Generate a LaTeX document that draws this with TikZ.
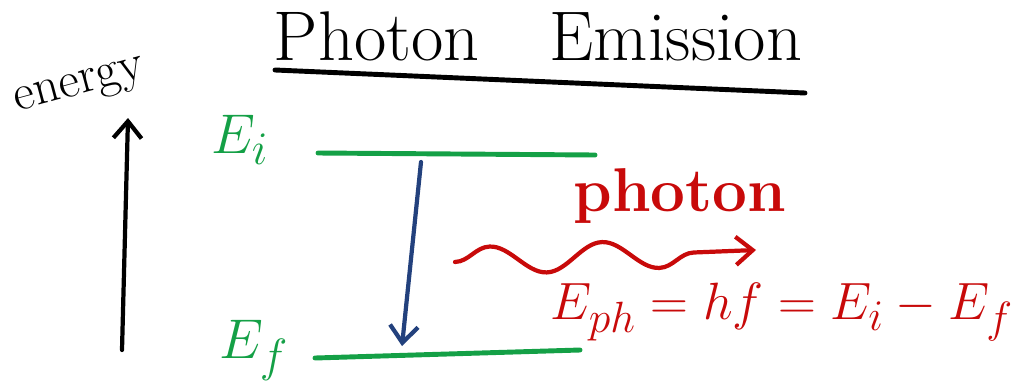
\documentclass[tikz,border=0pt]{standalone}
\usepackage{tikz}
\usetikzlibrary{arrows.meta,positioning,decorations.pathmorphing}
\definecolor{levelgreen}{RGB}{20,160,70}
\definecolor{transblue}{RGB}{35,65,125}
\definecolor{photonred}{RGB}{200,10,10}
\begin{document}
\begin{tikzpicture}[x=0.025cm,y=-0.025cm,
  level/.style={levelgreen,line width=3.5pt,line cap=round},
  lbl/.style={levelgreen,font=\Huge,scale=1.6},
  tip/.style={-{Straight Barb[length=12pt,width=20pt]},line width=3pt,line cap=round}]
\useasboundingbox (0,0) rectangle (1031,389);
\node (title) at (538,36) {\fontsize{50}{58}\selectfont Photon\quad Emission};
\draw[line width=3.5pt,line cap=round] (275,70) coordinate (u0) -- (805,93) coordinate (u1);
\node[rotate=15,font=\Huge,scale=1.45] (energy) at (80,88) {energy};
\coordinate (en0) at (122,350);
\coordinate (en1) at (128,118);
\draw[tip] (en0) -- (en1);
\node[lbl] (Ei) at (240,140) {$E_i$};
\node[lbl] (Ef) at (254,350) {$E_f$};
\coordinate (i0) at (318,153); \coordinate (i1) at (595,155);
\coordinate (f0) at (315,358); \coordinate (f1) at (580,350);
\draw[level] (i0) -- (i1);
\draw[level] (f0) -- (f1);
\coordinate (top) at (421,162);
\coordinate (bot) at (402,346);
\draw[tip,transblue] (top) -- (bot);
\node[photonred,font=\bfseries\fontsize{44}{52}\selectfont] (photon) at (680,196) {photon};
\coordinate (w0) at (455,262);
\coordinate (w1) at (756,250);
\draw[tip,photonred,decorate,decoration={snake,amplitude=10,segment length=80,post length=30}] (w0) -- (w1);
\node[photonred,font=\Huge,scale=1.5] (formula) at (782,312) {$E_{ph}=hf=E_i-E_f$};
\end{tikzpicture}
\end{document}
